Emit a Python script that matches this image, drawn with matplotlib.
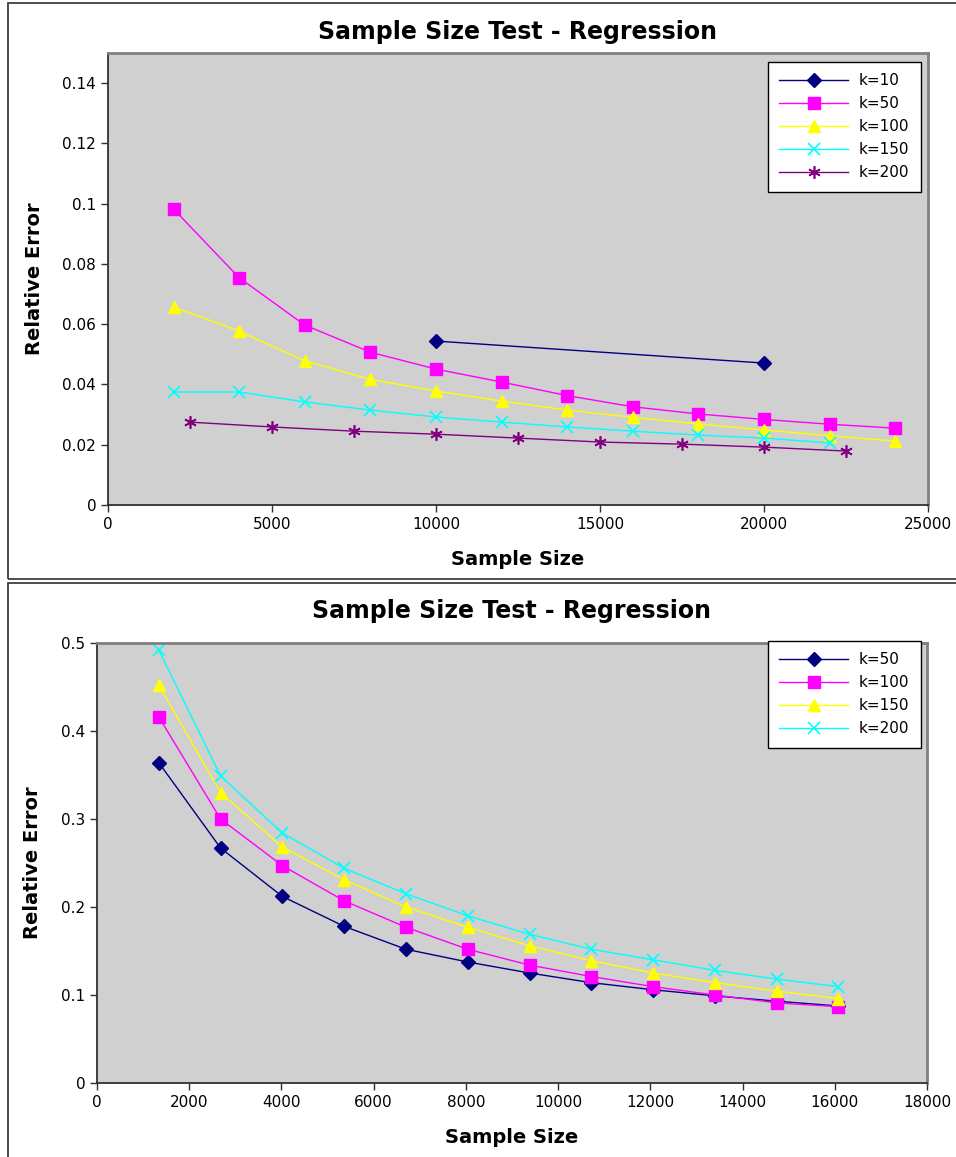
import matplotlib
matplotlib.use("Agg")
import matplotlib.pyplot as plt
from matplotlib.patches import Rectangle

plt.rcParams['font.family'] = ['DejaVu Sans']

# ---------------- data: top chart ----------------
top_k10_x = [10000, 20000]
top_k10_y = [0.0544, 0.0471]
top_k50_x = [2000, 4000, 6000, 8000, 10000, 12000, 14000, 16000, 18000, 20000, 22000, 24000]
top_k50_y = [0.0982, 0.0754, 0.0597, 0.0507, 0.0451, 0.0408, 0.0363, 0.0326, 0.0302, 0.0284, 0.0268, 0.0255]
top_k100_x = [2000, 4000, 6000, 8000, 10000, 12000, 14000, 16000, 18000, 20000, 22000, 24000]
top_k100_y = [0.0657, 0.0577, 0.0478, 0.0417, 0.0378, 0.0345, 0.0315, 0.0291, 0.0269, 0.0249, 0.0230, 0.0212]
top_k150_x = [2000, 4000, 6000, 8000, 10000, 12000, 14000, 16000, 18000, 20000, 22000]
top_k150_y = [0.0375, 0.0375, 0.0342, 0.0315, 0.0292, 0.0275, 0.0259, 0.0245, 0.0232, 0.0222, 0.0206]
top_k200_x = [2500, 5000, 7500, 10000, 12500, 15000, 17500, 20000, 22500]
top_k200_y = [0.0275, 0.0259, 0.0245, 0.0235, 0.0222, 0.0209, 0.0202, 0.0192, 0.0179]

top_xticks = [0, 5000, 10000, 15000, 20000, 25000]
top_yticks = [0, 0.02, 0.04, 0.06, 0.08, 0.1, 0.12, 0.14]
top_yticklabels = ['0', '0.02', '0.04', '0.06', '0.08', '0.1', '0.12', '0.14']

# ---------------- data: bottom chart ----------------
bot_x = [1340, 2680, 4020, 5360, 6700, 8040, 9380, 10720, 12060, 13400, 14740, 16080]
bot_k50_y = [0.364, 0.267, 0.212, 0.178, 0.152, 0.1375, 0.125, 0.114, 0.106, 0.099, 0.093, 0.0875]
bot_k100_y = [0.416, 0.300, 0.247, 0.207, 0.177, 0.152, 0.134, 0.121, 0.1095, 0.100, 0.091, 0.0867]
bot_k150_y = [0.452, 0.330, 0.268, 0.231, 0.200, 0.177, 0.156, 0.139, 0.125, 0.114, 0.1045, 0.096]
bot_k200_y = [0.492, 0.349, 0.284, 0.244, 0.215, 0.190, 0.169, 0.152, 0.140, 0.128, 0.118, 0.1095]

bot_xticks = [0, 2000, 4000, 6000, 8000, 10000, 12000, 14000, 16000, 18000]
bot_yticks = [0, 0.1, 0.2, 0.3, 0.4, 0.5]
bot_yticklabels = ['0', '0.1', '0.2', '0.3', '0.4', '0.5']

title = 'Sample Size Test - Regression'

W, H = 956, 1157
fig = plt.figure(figsize=(W / 100, H / 100), dpi=100)


def px_rect(l, t, r, b):
    return [l / W, (H - b) / H, (r - l) / W, (b - t) / H]


# panel frames
fig.patches.append(Rectangle((8 / W, (H - 579) / H), (W + 10 - 8) / W, (579 - 3) / H,
                             transform=fig.transFigure, fill=False, edgecolor='#404040', lw=1.3))
fig.patches.append(Rectangle((8 / W, (H - 1160) / H), (W + 10 - 8) / W, (1160 - 583) / H,
                             transform=fig.transFigure, fill=False, edgecolor='#404040', lw=1.3))

NAVY = '#000080'
MAG = '#FF00FF'
YEL = '#FFFF00'
CYN = '#00FFFF'
PUR = '#800080'
ASTER = (6, 2, 0)


def style_axes(ax):
    ax.set_facecolor('#D0D0D0')
    for s in ['left', 'bottom']:
        ax.spines[s].set_color('#303030')
        ax.spines[s].set_linewidth(1.3)
    for s in ['top', 'right']:
        ax.spines[s].set_color('#808080')
        ax.spines[s].set_linewidth(2.0)
    ax.tick_params(direction='out', length=5, width=1, colors='#303030', labelcolor='black', labelsize=11)


def make_legend(ax, top_px):
    leg = ax.legend(loc='upper left', bbox_to_anchor=(768 / W, (H - top_px) / H),
                    bbox_transform=fig.transFigure, borderaxespad=0,
                    fancybox=False, edgecolor='black', framealpha=1, fontsize=11, handlelength=4.5,
                    labelspacing=0.52, borderpad=0.75, handletextpad=0.7)
    leg.get_frame().set_linewidth(1.0)
    leg.get_frame().set_facecolor('white')
    return leg


# ---------------- top axes ----------------
ax1 = fig.add_axes(px_rect(108, 53, 928, 505))
style_axes(ax1)
ax1.plot(top_k10_x, top_k10_y, color=NAVY, lw=1, marker='D', ms=7, mfc=NAVY, mec=NAVY, label='k=10')
ax1.plot(top_k50_x, top_k50_y, color=MAG, lw=1, marker='s', ms=9, mfc=MAG, mec=MAG, label='k=50')
ax1.plot(top_k100_x, top_k100_y, color=YEL, lw=1, marker='^', ms=9, mfc=YEL, mec=YEL, label='k=100')
ax1.plot(top_k150_x, top_k150_y, color=CYN, lw=1, marker='x', ms=9, mew=1.2, mfc=CYN, mec=CYN, label='k=150')
ax1.plot(top_k200_x, top_k200_y, color=PUR, lw=1, marker=ASTER, ms=9, mew=1.2, mfc=PUR, mec=PUR, label='k=200')
ax1.set_xlim(0, 25000)
ax1.set_ylim(0, 0.15)
ax1.set_xticks(top_xticks)
ax1.set_xticklabels([str(v) for v in top_xticks])
ax1.set_yticks(top_yticks)
ax1.set_yticklabels(top_yticklabels)
ax1.set_xlabel('Sample Size', fontsize=14, fontweight='bold', labelpad=13)
ax1.set_ylabel('Relative Error', fontsize=14, fontweight='bold', labelpad=13)
ax1.set_title(title, fontsize=17, fontweight='bold', pad=10)
make_legend(ax1, 62)

# ---------------- bottom axes ----------------
ax2 = fig.add_axes(px_rect(97, 643, 927, 1083))
style_axes(ax2)
ax2.plot(bot_x, bot_k50_y, color=NAVY, lw=1, marker='D', ms=7, mfc=NAVY, mec=NAVY, label='k=50')
ax2.plot(bot_x, bot_k100_y, color=MAG, lw=1, marker='s', ms=9, mfc=MAG, mec=MAG, label='k=100')
ax2.plot(bot_x, bot_k150_y, color=YEL, lw=1, marker='^', ms=9, mfc=YEL, mec=YEL, label='k=150')
ax2.plot(bot_x, bot_k200_y, color=CYN, lw=1, marker='x', ms=9, mew=1.2, mfc=CYN, mec=CYN, label='k=200')
ax2.set_xlim(0, 18000)
ax2.set_ylim(0, 0.5)
ax2.set_xticks(bot_xticks)
ax2.set_xticklabels([str(v) for v in bot_xticks])
ax2.set_yticks(bot_yticks)
ax2.set_yticklabels(bot_yticklabels)
ax2.set_xlabel('Sample Size', fontsize=14, fontweight='bold', labelpad=13)
ax2.set_ylabel('Relative Error', fontsize=14, fontweight='bold', labelpad=14)
ax2.set_title(title, fontsize=17, fontweight='bold', pad=18)
make_legend(ax2, 641)

fig.savefig('out.png', dpi=100)
